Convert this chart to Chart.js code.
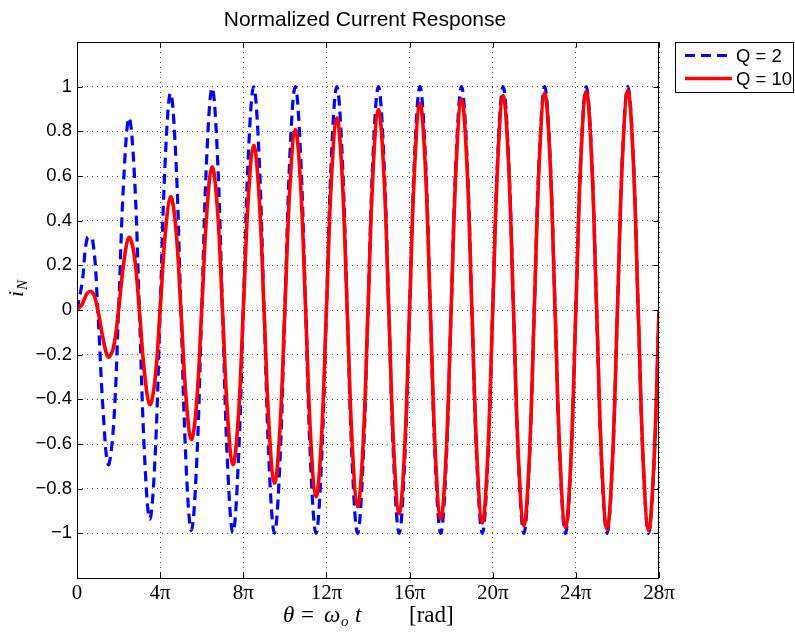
<!DOCTYPE html>
<html>
<head>
<meta charset="utf-8">
<title>Normalized Current Response</title>
<script src="https://cdn.jsdelivr.net/npm/chart.js@4.4.1/dist/chart.umd.min.js"></script>
<style>
  html, body { margin: 0; padding: 0; background: #fff; }
  #plot { display: block; }
</style>
</head>
<body>
<canvas id="plot" width="795" height="635"></canvas>
<script>
// theta in units of pi, sampled every pi/4
const THETA_PI = [
  0, 0.25, 0.5, 0.75, 1, 1.25, 1.5, 1.75,
  2, 2.25, 2.5, 2.75, 3, 3.25, 3.5, 3.75,
  4, 4.25, 4.5, 4.75, 5, 5.25, 5.5, 5.75,
  6, 6.25, 6.5, 6.75, 7, 7.25, 7.5, 7.75,
  8, 8.25, 8.5, 8.75, 9, 9.25, 9.5, 9.75,
  10, 10.25, 10.5, 10.75, 11, 11.25, 11.5, 11.75,
  12, 12.25, 12.5, 12.75, 13, 13.25, 13.5, 13.75,
  14, 14.25, 14.5, 14.75, 15, 15.25, 15.5, 15.75,
  16, 16.25, 16.5, 16.75, 17, 17.25, 17.5, 17.75,
  18, 18.25, 18.5, 18.75, 19, 19.25, 19.5, 19.75,
  20, 20.25, 20.5, 20.75, 21, 21.25, 21.5, 21.75,
  22, 22.25, 22.5, 22.75, 23, 23.25, 23.5, 23.75,
  24, 24.25, 24.5, 24.75, 25, 25.25, 25.5, 25.75,
  26, 26.25, 26.5, 26.75, 27, 27.25, 27.5, 27.75,
  28
];

// Q = 2
const Q2_VALUES = [
  0, 0.126, 0.325, 0.315, 0, -0.442, -0.692, -0.528,
  0, 0.586, 0.860, 0.626, 0, -0.652, -0.936, -0.670,
  0, 0.682, 0.971, 0.690, 0, -0.696, -0.987, -0.699,
  0, 0.702, 0.994, 0.704, 0, -0.705, -0.997, -0.705,
  0, 0.706, 0.999, 0.707, 0, -0.707, -0.999, -0.707,
  0, 0.707, 1, 0.707, 0, -0.707, -1, -0.707,
  0, 0.707, 1, 0.707, 0, -0.707, -1, -0.707,
  0, 0.707, 1, 0.707, 0, -0.707, -1, -0.707,
  0, 0.707, 1, 0.707, 0, -0.707, -1, -0.707,
  0, 0.707, 1, 0.707, 0, -0.707, -1, -0.707,
  0, 0.707, 1, 0.707, 0, -0.707, -1, -0.707,
  0, 0.707, 1, 0.707, 0, -0.707, -1, -0.707,
  0, 0.707, 1, 0.707, 0, -0.707, -1, -0.707,
  0, 0.707, 1, 0.707, 0, -0.707, -1, -0.707,
  0
];

// Q = 10
const Q10_VALUES = [
  0, 0.027, 0.076, 0.079, 0, -0.126, -0.210, -0.170,
  0, 0.211, 0.325, 0.248, 0, -0.283, -0.423, -0.315,
  0, 0.344, 0.507, 0.372, 0, -0.397, -0.579, -0.421,
  0, 0.442, 0.640, 0.462, 0, -0.481, -0.692, -0.498,
  0, 0.514, 0.737, 0.528, 0, -0.542, -0.775, -0.554,
  0, 0.566, 0.808, 0.576, 0, -0.586, -0.836, -0.595,
  0, 0.604, 0.860, 0.612, 0, -0.619, -0.880, -0.626,
  0, 0.632, 0.897, 0.637, 0, -0.643, -0.912, -0.648,
  0, 0.652, 0.925, 0.656, 0, -0.660, -0.936, -0.664,
  0, 0.667, 0.945, 0.670, 0, -0.673, -0.953, -0.675,
  0, 0.678, 0.960, 0.680, 0, -0.682, -0.966, -0.684,
  0, 0.686, 0.971, 0.687, 0, -0.689, -0.975, -0.690,
  0, 0.691, 0.979, 0.693, 0, -0.694, -0.982, -0.695,
  0, 0.696, 0.984, 0.697, 0, -0.697, -0.987, -0.698,
  0
];

const SERIES_LABELS = ["Q = 2", "Q = 10"];
const X_TICKS = [0, 4, 8, 12, 16, 20, 24, 28];     // multiples of pi
const Y_TICKS = [-1, -0.8, -0.6, -0.4, -0.2, 0, 0.2, 0.4, 0.6, 0.8, 1];

const SANS = '"Liberation Sans", Arial, sans-serif';
const SERIF = '"Liberation Serif", "Times New Roman", serif';
const GRID = "rgba(0,0,0,0.7)";

function toPoints(ys) {
  return ys.map((y, i) => ({ x: THETA_PI[i], y }));
}

// title, box, inward ticks, axis labels and legend (MATLAB look)
const decor = {
  id: "decor",
  afterDatasetsDraw(chart) {
    const { ctx, chartArea: a, scales } = chart;
    ctx.save();
    ctx.strokeStyle = "#000";
    ctx.lineWidth = 1;
    ctx.strokeRect(a.left + 0.5, a.top + 0.5, a.right - a.left - 1, a.bottom - a.top);
    const tl = 5.5;
    ctx.beginPath();
    for (const v of X_TICKS) {
      const px = Math.round(scales.x.getPixelForValue(v)) + 0.5;
      ctx.moveTo(px, a.bottom); ctx.lineTo(px, a.bottom - tl);
      ctx.moveTo(px, a.top); ctx.lineTo(px, a.top + tl);
    }
    for (const v of Y_TICKS) {
      const py = Math.round(scales.y.getPixelForValue(v)) + 0.5;
      ctx.moveTo(a.left, py); ctx.lineTo(a.left + tl, py);
      ctx.moveTo(a.right, py); ctx.lineTo(a.right - tl, py);
    }
    ctx.stroke();
    ctx.restore();
  },
  afterDraw(chart) {
    const { ctx, chartArea: a } = chart;
    const cx = (a.left + a.right) / 2;
    ctx.save();
    ctx.fillStyle = "#000";

    // title
    ctx.font = "21px " + SANS;
    ctx.textAlign = "center";
    ctx.textBaseline = "alphabetic";
    ctx.fillText("Normalized Current Response", cx - 3, 26);

    // x label: theta = omega_o t   [rad]
    ctx.textAlign = "left";
    const by = 622;
    const it = "italic 23px " + SERIF;
    const up = "23px " + SERIF;
    const sub = "italic 15px " + SERIF;
    ctx.font = it;  ctx.fillText("θ", cx - 85, by);
    ctx.font = up;  ctx.fillText("=", cx - 67, by);
    ctx.font = it;  ctx.fillText("ω", cx - 44, by);
    ctx.font = sub; ctx.fillText("o", cx - 27, by + 4);
    ctx.font = it;  ctx.fillText("t", cx - 13, by);
    ctx.font = up;  ctx.fillText("[rad]", cx + 41, by);

    // y label: i_N (rotated)
    ctx.save();
    ctx.translate(23, 297);
    ctx.rotate(-Math.PI / 2);
    ctx.font = "italic 22px " + SERIF;
    ctx.fillText("i", 0, 0);
    const iw = ctx.measureText("i").width;
    ctx.font = sub;
    ctx.fillText("N", iw + 1, 4);
    ctx.restore();

    // legend
    ctx.strokeStyle = "#000";
    ctx.lineWidth = 1;
    ctx.strokeRect(675.5, 42.5, 118, 50);
    const rows = [55.5, 78.5];
    chart.data.datasets.forEach((ds, i) => {
      ctx.save();
      ctx.strokeStyle = ds.borderColor;
      ctx.lineWidth = ds.borderWidth;
      ctx.setLineDash(ds.borderDash || []);
      ctx.beginPath();
      ctx.moveTo(685, rows[i]);
      ctx.lineTo(732, rows[i]);
      ctx.stroke();
      ctx.restore();
      ctx.font = "18.5px " + SANS;
      ctx.textBaseline = "middle";
      ctx.fillText(ds.label, 736, rows[i] + 1);
    });
    ctx.restore();
  }
};

new Chart(document.getElementById("plot"), {
  type: "line",
  data: {
    datasets: [
      {
        label: SERIES_LABELS[0],
        data: toPoints(Q2_VALUES),
        borderColor: "#0000ff",
        borderWidth: 3.2,
        borderDash: [10, 6],
        pointRadius: 0,
        tension: 0.4,
        fill: false,
        order: 1
      },
      {
        label: SERIES_LABELS[1],
        data: toPoints(Q10_VALUES),
        borderColor: "#ff0000",
        borderWidth: 3.6,
        pointRadius: 0,
        tension: 0.4,
        fill: false,
        order: 0
      }
    ]
  },
  options: {
    responsive: false,
    animation: false,
    events: [],
    layout: { padding: { left: 0, top: 42, right: 136, bottom: 0 } },
    plugins: {
      legend: { display: false },
      title: { display: false },
      tooltip: { enabled: false }
    },
    scales: {
      x: {
        type: "linear",
        min: 0,
        max: 28,
        afterFit: (s) => { s.height = 57; },
        afterBuildTicks: (s) => { s.ticks = X_TICKS.map(v => ({ value: v })); },
        ticks: {
          autoSkip: false,
          maxRotation: 0,
          padding: 3,
          color: "#000",
          font: { family: SERIF, size: 21 },
          callback: (v) => (v === 0 ? "0" : v + "π")
        },
        grid: { color: GRID, lineWidth: 1, drawTicks: false },
        border: { display: false, dash: [1, 4] }
      },
      y: {
        min: -1.2,
        max: 1.2,
        afterFit: (s) => { s.width = 77; },
        afterBuildTicks: (s) => { s.ticks = Y_TICKS.map(v => ({ value: v })); },
        ticks: {
          padding: 5,
          color: "#000",
          font: { family: SANS, size: 18.5 },
          callback: (v) => String(Math.round(v * 10) / 10).replace("-", "−")
        },
        grid: { color: GRID, lineWidth: 1, drawTicks: false },
        border: { display: false, dash: [1, 4] }
      }
    }
  },
  plugins: [decor]
});
</script>
</body>
</html>
